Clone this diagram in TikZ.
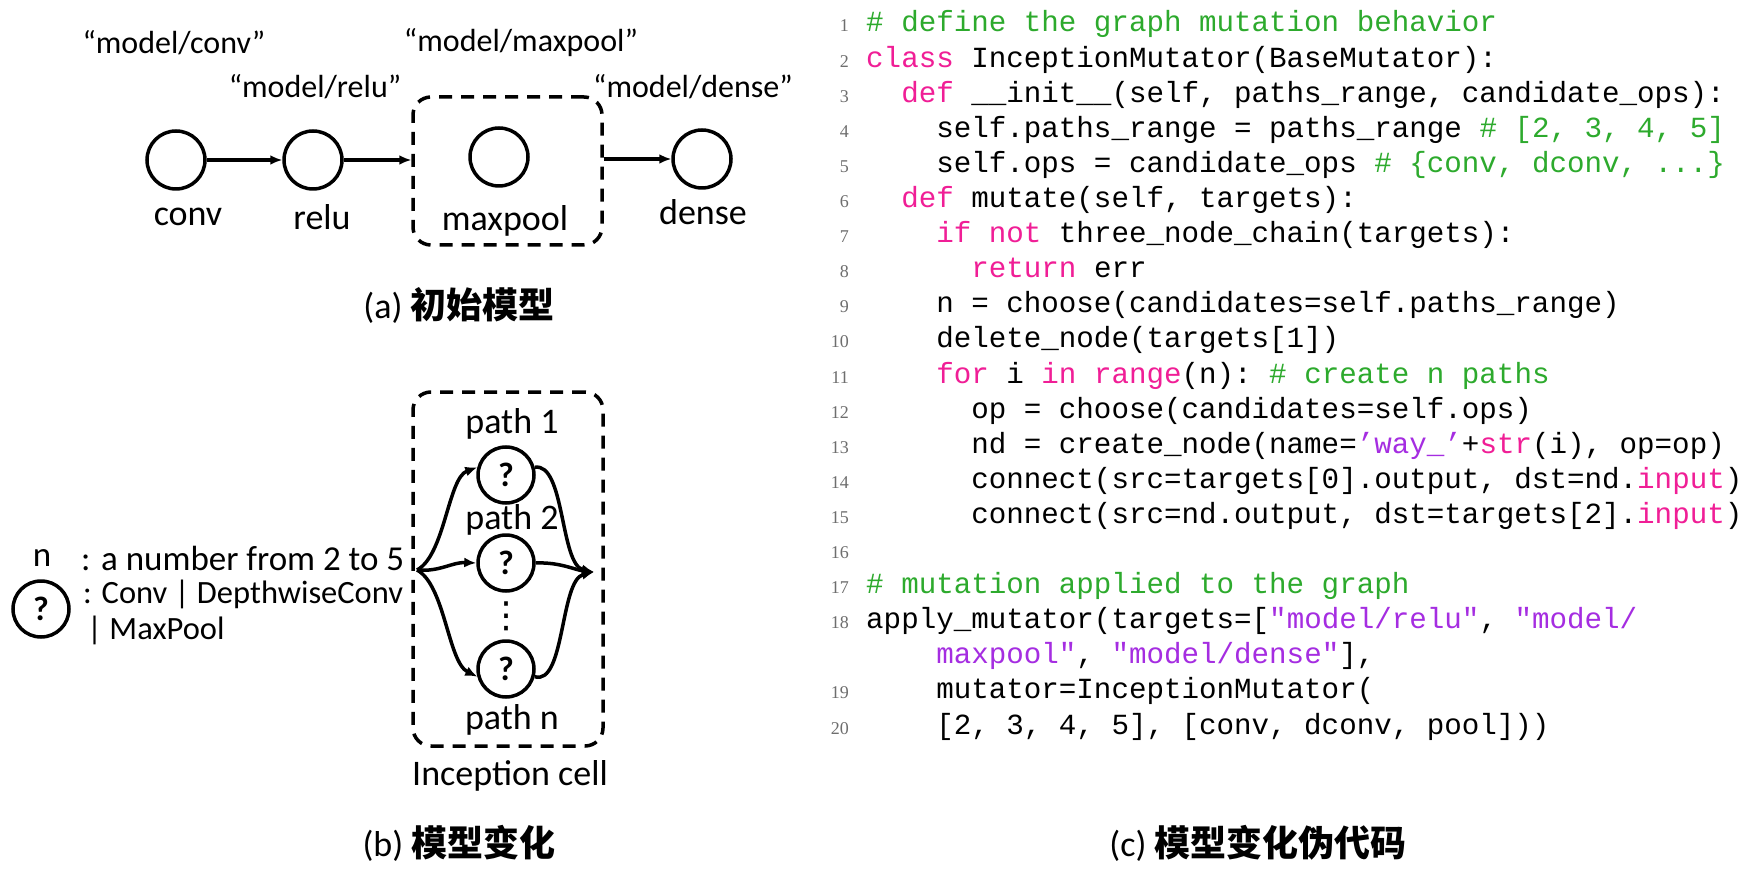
\documentclass[tikz,border=0pt]{standalone}
\usepackage{fontspec}
\setmainfont{Carlito}
\newfontfamily\cjk{Noto Sans CJK SC}
\newfontfamily\codefont{Liberation Mono}
\newfontfamily\numfont{Liberation Serif}
\newfontfamily\dejavu{DejaVu Sans}
\usetikzlibrary{arrows.meta}
\definecolor{cgreen}{RGB}{45,170,45}
\definecolor{kpink}{RGB}{240,30,150}
\definecolor{spurple}{RGB}{165,45,225}
\definecolor{lgray}{RGB}{110,110,110}
\newcommand\kw[1]{\textcolor{kpink}{#1}}
\newcommand\cg[1]{\textcolor{cgreen}{#1}}
\newcommand\st[1]{\textcolor{spurple}{#1}}
\newcommand\codeln[3]{%
  \node[lnum] (num#1) at (849,{32+(#1-1)*35.1}) {#2};
  \node[codeline] (code#1) at (866,{32+(#1-1)*35.1}) {#3};}
\begin{document}
\begin{tikzpicture}[x=1pt,y=-1pt,
  opnode/.style={circle,draw,line width=3.5pt,minimum size=58pt,inner sep=0pt},
  qnode/.style={circle,draw,line width=3.5pt,minimum size=56pt,inner sep=0pt,font=\fontsize{34}{36}\selectfont\bfseries},
  qlabel/.style={font=\fontsize{32}{36}\selectfont,inner sep=0pt},
  lab/.style={font=\fontsize{36}{40}\selectfont,inner sep=0pt},
  legtxt/.style={font=\fontsize{32.5}{36}\selectfont,inner sep=0pt,anchor=west},
  captxt/.style={font=\fontsize{36}{40}\selectfont,inner sep=0pt},
  dbox/.style={draw,line width=3.5pt,dash pattern=on 13pt off 9pt,rounded corners=18pt,inner sep=0pt},
  arr/.style={line width=3.5pt,-{Latex[length=12pt,width=10pt]}},
  codeline/.style={anchor=base west,inner sep=0pt,font=\codefont\fontsize{29.2}{35}\selectfont\frenchspacing},
  lnum/.style={anchor=base east,inner sep=0pt,text=lgray,font=\numfont\fontsize{18}{20}\selectfont}
]
\fill[white] (0,0) rectangle (1758,874);
\useasboundingbox (0,0) rectangle (1758,874);

% (a) initial model
\node[opnode] (conv) at (176,160) {};
\node[opnode] (relu) at (313,160) {};
\node[opnode] (maxp) at (499,157) {};
\node[opnode] (dense) at (702,159) {};
\node[dbox,minimum width=189pt,minimum height=148pt] (boxa) at (507.5,171) {};
\node[qlabel] (qconv) at (174,43) {“model/conv”};
\node[qlabel] (qrelu) at (315,87) {“model/relu”};
\node[qlabel] (qmaxp) at (521,43) {“model/maxpool”};
\node[qlabel] (qdense) at (693,87) {“model/dense”};
\node[lab] (lconv) at (188,217) {conv};
\node[lab] (lrelu) at (322,217) {relu};
\node[lab] (lmaxp) at (505,221) {maxpool};
\node[lab] (ldense) at (703,212) {dense};
\draw[arr] (conv) -- (relu);
\draw[arr] (relu) -- (relu -| boxa.west);
\draw[arr] (boxa.east |- dense) -- (dense);
\node[captxt] (capa) at (459,305) {(a) {\cjk\bfseries 初始模型}};

% (b) legend
\node[legtxt,anchor=center,font=\fontsize{35}{38}\selectfont] (nlab) at (42,558) {n};
\node[legtxt,font=\fontsize{35}{38}\selectfont] (leg1) at (81,558) {: a number from 2 to 5};
\node[qnode] (legq) at (41,609) {?};
\node[legtxt] (leg2) at (83,594) {: Conv | DepthwiseConv};
\node[legtxt] (leg3) at (87,630) {| MaxPool};

% (b) inception cell
\node[dbox,minimum width=190pt,minimum height=354pt] (boxb) at (508,569) {};
\node[lab] (p1) at (512,424) {path 1};
\node[qnode] (c1) at (506,475) {?};
\node[lab] (p2) at (512,520) {path 2};
\node[qnode] (c2) at (506,563) {?};
\node[lab] (dots) at (506,616) {\dejavu ⋮};
\node[qnode] (c3) at (506,669) {?};
\node[lab] (pn) at (512,720) {path n};
\node[lab] (inc) at (510,776) {Inception cell};
\coordinate (split) at (417,570);
\coordinate (merge) at (594,572);
\draw[arr] (split) .. controls (445,555) and (448,478) .. (c1.165);
\draw[arr] (split) .. controls (440,572) and (452,562) .. (c2.west);
\draw[arr] (split) .. controls (445,585) and (448,662) .. (c3.195);
\draw[arr] (c1.15) .. controls (565,462) and (560,565) .. (merge);
\draw[arr] (c2.east) .. controls (560,562) and (575,570) .. (merge);
\draw[arr] (c3.-15) .. controls (565,686) and (560,580) .. (merge);
\node[captxt] (capb) at (459,843) {(b) {\cjk\bfseries 模型变化}};

% (c) pseudo code
\codeln{1}{1}{\cg{\# define the graph mutation behavior}}
\codeln{2}{2}{\kw{class} InceptionMutator(BaseMutator):}
\codeln{3}{3}{~~\kw{def} \_\_init\_\_(self, paths\_range, candidate\_ops):}
\codeln{4}{4}{~~~~self.paths\_range = paths\_range \cg{\# [2, 3, 4, 5]}}
\codeln{5}{5}{~~~~self.ops = candidate\_ops \cg{\# \{conv, dconv, ...\}}}
\codeln{6}{6}{~~\kw{def} mutate(self, targets):}
\codeln{7}{7}{~~~~\kw{if not} three\_node\_chain(targets):}
\codeln{8}{8}{~~~~~~\kw{return} err}
\codeln{9}{9}{~~~~n = choose(candidates=self.paths\_range)}
\codeln{10}{10}{~~~~delete\_node(targets[1])}
\codeln{11}{11}{~~~~\kw{for} i \kw{in} \kw{range}(n): \cg{\# create n paths}}
\codeln{12}{12}{~~~~~~op = choose(candidates=self.ops)}
\codeln{13}{13}{~~~~~~nd = create\_node(name=\st{’way\_’}+\kw{str}(i), op=op)}
\codeln{14}{14}{~~~~~~connect(src=targets[0].output, dst=nd.\kw{input})}
\codeln{15}{15}{~~~~~~connect(src=nd.output, dst=targets[2].\kw{input})}
\node[lnum] (num16) at (849,{32+15*35.1}) {16};
\codeln{17}{17}{\cg{\# mutation applied to the graph}}
\codeln{18}{18}{apply\_mutator(targets=[\st{"model/relu"}, \st{"model/}}
\node[codeline] (code19) at (866,{32+18*35.1}) {~~~~\st{maxpool"}, \st{"model/dense"}],};
\codeln{20}{19}{~~~~mutator=InceptionMutator(}
\codeln{21}{20}{~~~~[2, 3, 4, 5], [conv, dconv, pool]))}
\node[captxt] (capc) at (1258,843) {(c) {\cjk\bfseries 模型变化伪代码}};
\end{tikzpicture}
\end{document}
